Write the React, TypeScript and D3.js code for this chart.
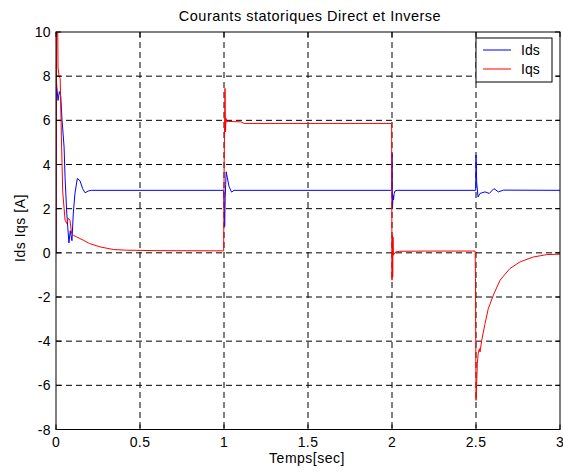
import React from "react";
import * as d3 from "d3";

const title = "Courants statoriques Direct et Inverse";
const xLabel = "Temps[sec]";
const yLabel = "Ids Iqs [A]";
const xTicks = [0, 0.5, 1, 1.5, 2, 2.5, 3];
const yTicks = [-8, -6, -4, -2, 0, 2, 4, 6, 8, 10];
const seriesNames = ["Ids", "Iqs"];

const idsT = [0, 0.001, 0.005, 0.012, 0.02, 0.028, 0.036, 0.048, 0.054, 0.064, 0.077, 0.085, 0.095, 0.103, 0.113, 0.127, 0.143, 0.159, 0.173, 0.192, 0.21,
  0.998, 1.001, 1.004, 1.007, 1.01, 1.013, 1.02, 1.03, 1.045, 1.06,
  1.998, 2.0, 2.003, 2.006, 2.009, 2.013, 2.018, 2.03,
  2.498, 2.5, 2.504, 2.512, 2.524, 2.554, 2.579, 2.607, 2.633, 2.663, 3.0];
const idsV = [0, 8.0, 7.5, 6.9, 7.3, 7.1, 6.0, 4.8, 3.4, 1.8, 0.45, 1.0, 0.55, 1.8, 2.7, 3.37, 3.26, 2.9, 2.72, 2.8, 2.83,
  2.83, 2.2, 1.2, 2.5, 3.1, 3.67, 3.4, 3.0, 2.75, 2.83,
  2.83, 4.5, 2.0, 2.6, 2.4, 2.69, 2.8, 2.83,
  2.83, 4.42, 3.2, 2.53, 2.69, 2.76, 2.69, 2.91, 2.76, 2.84, 2.83];

const iqsT = [0, 0.004, 0.01, 0.012, 0.018, 0.025, 0.032, 0.04, 0.054, 0.064, 0.073, 0.083, 0.093, 0.103, 0.123, 0.163, 0.2, 0.262, 0.341, 0.42, 0.6, 0.998,
  1.001, 1.006, 1.009, 1.012, 1.016, 1.025, 1.1, 1.12, 1.998,
  2.0, 2.002, 2.004, 2.006, 2.008, 2.01, 2.014, 2.022, 2.045, 2.2, 2.495,
  2.497, 2.5, 2.508, 2.513, 2.52, 2.524, 2.534, 2.554, 2.573, 2.603, 2.643, 2.702, 2.762, 2.841, 2.921, 3.0];
const iqsV = [0, 10.5, 10.5, 8.4, 8.0, 7.9, 5.25, 2.76, 1.48, 1.33, 1.56, 1.48, 0.87, 0.8, 0.72, 0.57, 0.42, 0.27, 0.15, 0.12, 0.1, 0.09,
  4.0, 7.45, 5.48, 6.09, 5.93, 5.95, 5.93, 5.86, 5.86,
  -1.24, 0.8, -1.09, 0.72, -0.11, 0.0, -0.06, 0.04, 0.07, 0.08, 0.08,
  -1.17, -6.68, -5.02, -4.57, -4.34, -4.49, -3.96, -3.2, -2.53, -1.92, -1.24, -0.71, -0.41, -0.19, -0.08, -0.06];

const W = 563, H = 475;
const L = 56, R = 560, T = 32, B = 429.5;
const font = "'Liberation Sans', Arial, sans-serif";

export default function App() {
  const x = d3.scaleLinear().domain([0, 3]).range([L, R]);
  const y = d3.scaleLinear().domain([-8, 10]).range([B, T]);
  const line = d3.line<[number, number]>().x(d => x(d[0])).y(d => y(d[1]));
  const ids = idsT.map((t, i) => [t, idsV[i]] as [number, number]);
  const iqs = iqsT.map((t, i) => [t, iqsV[i]] as [number, number]);
  const tl = 5;
  return (
    <svg width={W} height={H} style={{ position: "absolute", left: 0, top: 0, background: "#fff" }} fontFamily={font}>
      <rect x={0} y={0} width={W} height={H} fill="#fff" />
      <defs>
        <clipPath id="plot"><rect x={L} y={T} width={R - L} height={B - T} /></clipPath>
      </defs>
      {xTicks.slice(1, -1).map(v => (
        <line key={"gx" + v} x1={x(v)} x2={x(v)} y1={T} y2={B} stroke="#000" strokeWidth={1} strokeDasharray="6,4" />
      ))}
      {yTicks.slice(1, -1).map(v => (
        <line key={"gy" + v} x1={L} x2={R} y1={y(v)} y2={y(v)} stroke="#000" strokeWidth={1} strokeDasharray="6,4" />
      ))}
      <g clipPath="url(#plot)" fill="none" strokeWidth={1}>
        <path d={line(ids) || ""} stroke="#0000ff" />
        <path d={line(iqs) || ""} stroke="#ff0000" />
      </g>
      <rect x={L} y={T} width={R - L} height={B - T} fill="none" stroke="#000" strokeWidth={1} />
      {xTicks.map(v => (
        <g key={"tx" + v}>
          <line x1={x(v)} x2={x(v)} y1={B} y2={B - tl} stroke="#000" />
          <line x1={x(v)} x2={x(v)} y1={T} y2={T + tl} stroke="#000" />
          <text x={x(v)} y={447} fontSize={14} letterSpacing={0.4} textAnchor="middle">{v}</text>
        </g>
      ))}
      {yTicks.map(v => (
        <g key={"ty" + v}>
          <line x1={L} x2={L + tl} y1={y(v)} y2={y(v)} stroke="#000" />
          <line x1={R} x2={R - tl} y1={y(v)} y2={y(v)} stroke="#000" />
          <text x={51} y={y(v) + 5} fontSize={14} letterSpacing={0.4} textAnchor="end">{v}</text>
        </g>
      ))}
      <text x={310} y={20.5} fontSize={14.5} letterSpacing={0.5} textAnchor="middle">{title}</text>
      <text x={307} y={463} fontSize={14} letterSpacing={0.5} textAnchor="middle">{xLabel}</text>
      <text transform="translate(24.5,228) rotate(-90)" fontSize={14} letterSpacing={0.5} textAnchor="middle">{yLabel}</text>
      <g>
        <rect x={476} y={38} width={76} height={44} fill="#fff" stroke="#000" strokeWidth={1} />
        <line x1={483} x2={511} y1={50} y2={50} stroke="#0000ff" />
        <line x1={483} x2={511} y1={69} y2={69} stroke="#ff0000" />
        <text x={521} y={55} fontSize={14}>{seriesNames[0]}</text>
        <text x={521} y={74} fontSize={14}>{seriesNames[1]}</text>
      </g>
    </svg>
  );
}
